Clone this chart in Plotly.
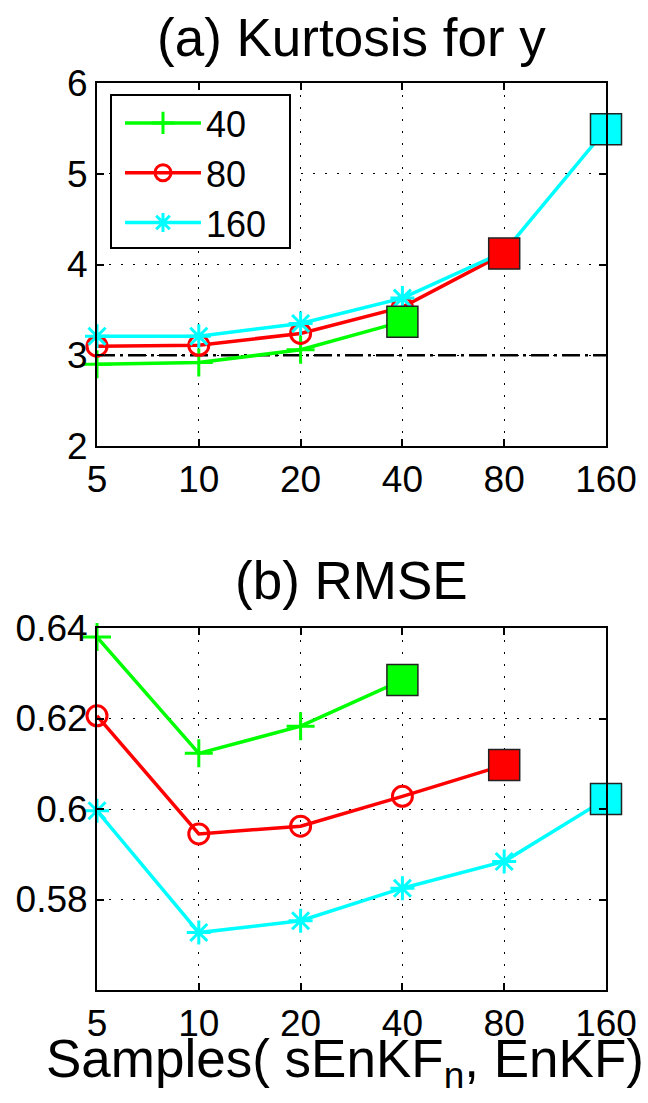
import plotly.graph_objects as go

# ---- data ----
samples = [5, 10, 20, 40, 80, 160]
tick_labels = ["5", "10", "20", "40", "80", "160"]
series_names = ["40", "80", "160"]
colors = ["#00FF00", "#FF0000", "#00FFFF"]
symbols = ["cross-thin-open", "circle-open", "asterisk-open"]

kurt_40 = [2.90, 2.92, 3.06, 3.37]
kurt_80 = [3.10, 3.11, 3.24, 3.53, 4.12]
kurt_160 = [3.21, 3.21, 3.35, 3.63, 4.14, 5.49]
kurt_ref = 3.0

rmse_40 = [0.6380, 0.6123, 0.6183, 0.6285]
rmse_80 = [0.6206, 0.5945, 0.5962, 0.6028, 0.6097]
rmse_160 = [0.5996, 0.5727, 0.5753, 0.5825, 0.5884, 0.6022]

kurt_yticks = [2, 3, 4, 5, 6]
rmse_yticks = [0.58, 0.60, 0.62, 0.64]
rmse_yticktext = ["0.58", "0.6", "0.62", "0.64"]

FONT = "Liberation Sans, Arial, Helvetica, sans-serif"
W, H = 648, 1103

fig = go.Figure()

def add_panel(series, xa, ya, showlegend):
    for name, vals, col, sym in zip(series_names, series, colors, symbols):
        xs = samples[:len(vals)]
        fig.add_trace(go.Scatter(
            x=xs, y=vals, mode="lines+markers", name=name,
            line=dict(color=col, width=3.5),
            marker=dict(symbol=sym, size=20 if sym != "circle-open" else 20,
                        color=col, line=dict(color=col, width=3)),
            xaxis=xa, yaxis=ya, cliponaxis=False, showlegend=showlegend,
        ))
    for name, vals, col in zip(series_names, series, colors):
        fig.add_trace(go.Scatter(
            x=[samples[len(vals) - 1]], y=[vals[-1]], mode="markers",
            marker=dict(symbol="square", size=31, color=col,
                        line=dict(color="#222222", width=1.5)),
            xaxis=xa, yaxis=ya, cliponaxis=False, showlegend=False,
        ))

fig.add_trace(go.Scatter(
    x=[samples[0], samples[-1]], y=[kurt_ref, kurt_ref], mode="lines",
    line=dict(color="black", width=2.5, dash="18px,5px,3px,5px"),
    xaxis="x", yaxis="y", showlegend=False,
))
add_panel([kurt_40, kurt_80, kurt_160], "x", "y", True)
add_panel([rmse_40, rmse_80, rmse_160], "x2", "y2", False)

x_dom = [97 / W, 606 / W]
axis_common = dict(
    showline=True, linecolor="black", linewidth=2, mirror="ticks",
    ticks="inside", ticklen=7, tickwidth=1.5, tickcolor="black",
    showgrid=True, gridcolor="black", gridwidth=1, griddash="2px,10px",
    zeroline=False, automargin=False,
    tickfont=dict(family=FONT, size=37, color="black"),
)
xaxis_common = dict(
    type="log", range=[0.69897, 2.20412], tickvals=samples, ticktext=tick_labels,
    domain=x_dom, **axis_common,
)
fig.update_layout(
    width=W, height=H, margin=dict(l=0, r=0, t=0, b=0, autoexpand=False),
    paper_bgcolor="white", plot_bgcolor="white",
    xaxis=dict(anchor="y", **xaxis_common),
    yaxis=dict(anchor="x", domain=[1 - 446 / H, 1 - 83 / H], range=[2, 6],
               tickvals=kurt_yticks, **axis_common),
    xaxis2=dict(anchor="y2", **xaxis_common),
    yaxis2=dict(anchor="x2", domain=[1 - 990 / H, 1 - 628 / H], range=[0.56, 0.64],
                tickvals=rmse_yticks, ticktext=rmse_yticktext, **axis_common),
    legend=dict(
        x=120 / W, y=1 - 93 / H, xanchor="left", yanchor="top",
        bgcolor="rgba(0,0,0,0)", borderwidth=0,
        font=dict(family=FONT, size=36, color="black"), itemwidth=76,
    ),
    showlegend=True,
    shapes=[
        dict(type="rect", xref="paper", yref="paper",
             x0=111 / W, x1=290 / W, y0=1 - 248 / H, y1=1 - 95 / H,
             line=dict(color="black", width=2), fillcolor="white", layer="above"),
    ],
    annotations=[
        dict(text="(a) Kurtosis for y", x=351.5 / W, y=1 - 38 / H, xref="paper", yref="paper",
             xanchor="center", yanchor="middle", showarrow=False,
             font=dict(family=FONT, size=53, color="black")),
        dict(text="(b) RMSE", x=351.5 / W, y=1 - 580 / H, xref="paper", yref="paper",
             xanchor="center", yanchor="middle", showarrow=False,
             font=dict(family=FONT, size=53, color="black")),
        dict(text="Samples( sEnKF<sub>n</sub>, EnKF)", x=345 / W, y=1 - 1062 / H,
             xref="paper", yref="paper", xanchor="center", yanchor="middle",
             showarrow=False, font=dict(family=FONT, size=53, color="black")),
    ],
)

fig.write_html(
    "out.html",
    config={"displayModeBar": False},
    post_script="document.body.style.margin='0';document.body.style.overflow='hidden';",
)
